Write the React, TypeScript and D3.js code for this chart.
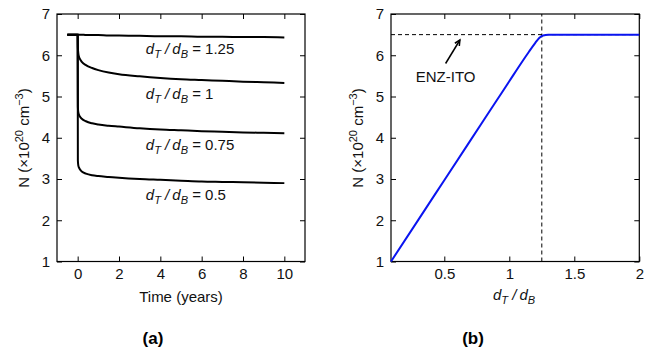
import {useEffect, useRef} from "react";
import * as d3 from "d3";

// panel (a): N vs time for several thickness ratios
const timeYears = [-0.5, 0, 0.01, 0.03, 0.06, 0.1, 0.2, 0.4, 0.7, 1, 1.5, 2, 3, 4, 5, 6, 7, 8, 9, 10];
const nRatio125 = [6.5, 6.5, 6.5, 6.5, 6.5, 6.5, 6.5, 6.49, 6.49, 6.49, 6.48, 6.48, 6.47, 6.46, 6.46, 6.45, 6.45, 6.44, 6.44, 6.43];
const nRatio1 = [6.5, 6.5, 6.2, 6.05, 5.97, 5.92, 5.84, 5.76, 5.69, 5.64, 5.58, 5.54, 5.49, 5.45, 5.42, 5.4, 5.38, 5.36, 5.345, 5.33];
const nRatio075 = [6.5, 6.5, 4.75, 4.62, 4.56, 4.52, 4.46, 4.4, 4.35, 4.32, 4.29, 4.27, 4.23, 4.2, 4.18, 4.16, 4.145, 4.13, 4.12, 4.11];
const nRatio05 = [6.5, 6.5, 3.45, 3.33, 3.28, 3.24, 3.18, 3.13, 3.09, 3.07, 3.05, 3.03, 3.0, 2.98, 2.96, 2.94, 2.93, 2.92, 2.91, 2.9];
const curveLabels = ["1.25", "1", "0.75", "0.5"];
const curveLabelY = [6.04, 4.95, 3.7, 2.5];

// panel (b): N vs d_T/d_B
const ratio = [0.09, 0.3, 0.5, 0.7, 0.9, 1.0, 1.1, 1.15, 1.2, 1.23, 1.26, 1.3, 1.5, 2];
const nVsRatio = [1, 2.01, 2.97, 3.93, 4.89, 5.37, 5.85, 6.08, 6.3, 6.42, 6.48, 6.5, 6.5, 6.5];
const enzLevel = 6.5;
const enzRatio = 1.25;
const arrowFrom = [0.51, 5.8];
const arrowTo = [0.62, 6.37];

const xTicksA = [0, 2, 4, 6, 8, 10];
const xTicksB = [0.5, 1, 1.5, 2];
const yTicks = [1, 2, 3, 4, 5, 6, 7];

const FONT = "'Liberation Sans', Arial, Helvetica, sans-serif";
const FS = 15;

function frame(g, x, y, xt, fmt) {
    const [x0, x1] = x.range();
    const [y0, y1] = y.range();
    const style = (s) => {
        s.select(".domain").remove();
        s.attr("font-family", FONT).attr("font-size", FS);
        s.selectAll("line").attr("stroke", "#000");
        s.selectAll("text").attr("fill", "#111");
    };
    g.append("g").attr("transform", `translate(0,${y0})`)
        .call(d3.axisBottom(x).tickValues(xt).tickSize(-5).tickPadding(7).tickFormat(fmt)).call(style);
    g.append("g").attr("transform", `translate(0,${y1})`)
        .call(d3.axisTop(x).tickValues(xt).tickSize(-5).tickFormat("")).call(style);
    g.append("g").attr("transform", `translate(${x0},0)`)
        .call(d3.axisLeft(y).tickValues(yTicks).tickSize(-5).tickPadding(7).tickFormat(d3.format("d"))).call(style);
    g.append("g").attr("transform", `translate(${x1},0)`)
        .call(d3.axisRight(y).tickValues(yTicks).tickSize(-5).tickFormat("")).call(style);
    g.append("rect").attr("x", x0).attr("y", y1).attr("width", x1 - x0).attr("height", y0 - y1)
        .attr("fill", "none").attr("stroke", "#000").attr("stroke-width", 1.2);
}

function yLabel(svg, cx, cy) {
    const t = svg.append("text").attr("transform", `translate(${cx},${cy}) rotate(-90)`)
        .attr("text-anchor", "middle").attr("font-family", FONT).attr("font-size", FS).attr("fill", "#111");
    t.append("tspan").text("N (×10");
    t.append("tspan").attr("font-size", 11).attr("dy", -6).text("20");
    t.append("tspan").attr("dy", 6).text(" cm");
    t.append("tspan").attr("font-size", 11).attr("dy", -6).text("−3");
    t.append("tspan").attr("dy", 6).text(")");
}

function ratioText(sel, suffix) {
    sel.append("tspan").attr("font-style", "italic").text("d");
    sel.append("tspan").attr("font-style", "italic").attr("font-size", 11).attr("dy", 4).text("T");
    sel.append("tspan").attr("font-style", "italic").attr("dy", -4).text(" /");
    sel.append("tspan").attr("font-style", "italic").attr("dx", 3).text("d");
    sel.append("tspan").attr("font-style", "italic").attr("font-size", 11).attr("dy", 4).text("B");
    if (suffix) sel.append("tspan").attr("dy", -4).text(suffix);
}

export default function App() {
    const ref = useRef(null);

    useEffect(() => {
        const svg = d3.select(ref.current);
        svg.selectAll("*").remove();

        const y = d3.scaleLinear().domain([1, 7]).range([261.5, 14]);

        // ---- panel (a)
        const xa = d3.scaleLinear().domain([-1, 11]).range([57, 305]);
        const ga = svg.append("g");
        frame(ga, xa, y, xTicksA, d3.format("d"));

        const lineA = d3.line().x((d, i) => xa(timeYears[i])).y(d => y(d)).curve(d3.curveMonotoneX);
        ga.append("g").selectAll("path")
            .data([nRatio125, nRatio1, nRatio075, nRatio05])
            .join("path")
            .attr("d", lineA)
            .attr("fill", "none").attr("stroke", "#000").attr("stroke-width", 2);

        ga.append("g").selectAll("text")
            .data(curveLabels)
            .join("text")
            .attr("x", xa(3.3)).attr("y", (d, i) => y(curveLabelY[i]))
            .attr("font-family", FONT).attr("font-size", FS).attr("fill", "#111")
            .each(function (d) { ratioText(d3.select(this), ` = ${d}`); });

        yLabel(svg, 29, 138);
        svg.append("text").attr("x", xa(5)).attr("y", 301.5).attr("text-anchor", "middle")
            .attr("font-family", FONT).attr("font-size", FS).attr("fill", "#111").text("Time (years)");
        svg.append("text").attr("x", 153).attr("y", 344).attr("text-anchor", "middle")
            .attr("font-family", FONT).attr("font-size", 17).attr("font-weight", "bold").text("(a)");

        // ---- panel (b)
        const xb = d3.scaleLinear().domain([0.09, 2]).range([391, 639.3]);
        const gb = svg.append("g");
        frame(gb, xb, y, xTicksB, d => String(d));

        gb.append("line").attr("x1", xb(0.09)).attr("x2", xb(2)).attr("y1", y(enzLevel)).attr("y2", y(enzLevel))
            .attr("stroke", "#000").attr("stroke-dasharray", "4,3");
        gb.append("line").attr("x1", xb(enzRatio)).attr("x2", xb(enzRatio)).attr("y1", y(1)).attr("y2", y(7))
            .attr("stroke", "#000").attr("stroke-dasharray", "4,3");

        const lineB = d3.line().x((d, i) => xb(ratio[i])).y(d => y(d)).curve(d3.curveMonotoneX);
        gb.append("path").datum(nVsRatio).attr("d", lineB)
            .attr("fill", "none").attr("stroke", "#0a14f0").attr("stroke-width", 2);

        // arrow annotation
        const ax0 = xb(arrowFrom[0]), ay0 = y(arrowFrom[1]);
        const ax1 = xb(arrowTo[0]), ay1 = y(arrowTo[1]);
        const ang = Math.atan2(ay1 - ay0, ax1 - ax0);
        const head = 6;
        gb.append("line").attr("x1", ax0).attr("y1", ay0).attr("x2", ax1).attr("y2", ay1)
            .attr("stroke", "#000").attr("stroke-width", 1.5);
        gb.append("path")
            .attr("d", d3.line()([
                [ax1 - head * Math.cos(ang - 0.45), ay1 - head * Math.sin(ang - 0.45)],
                [ax1, ay1],
                [ax1 - head * Math.cos(ang + 0.45), ay1 - head * Math.sin(ang + 0.45)],
            ]))
            .attr("fill", "none").attr("stroke", "#000").attr("stroke-width", 1.5);
        gb.append("text").attr("x", ax0).attr("y", 81.5).attr("text-anchor", "middle")
            .attr("font-family", FONT).attr("font-size", FS).attr("fill", "#111").text("ENZ-ITO");

        yLabel(svg, 363, 138);
        const xl = svg.append("text").attr("x", 493).attr("y", 300)
            .attr("font-family", FONT).attr("font-size", FS).attr("fill", "#111");
        ratioText(xl, "");
        svg.append("text").attr("x", 473).attr("y", 344).attr("text-anchor", "middle")
            .attr("font-family", FONT).attr("font-size", 17).attr("font-weight", "bold").text("(b)");
    }, []);

    return <svg ref={ref} width={660} height={352}
                style={{position: "absolute", left: 0, top: 0, background: "#fff"}}/>;
}
